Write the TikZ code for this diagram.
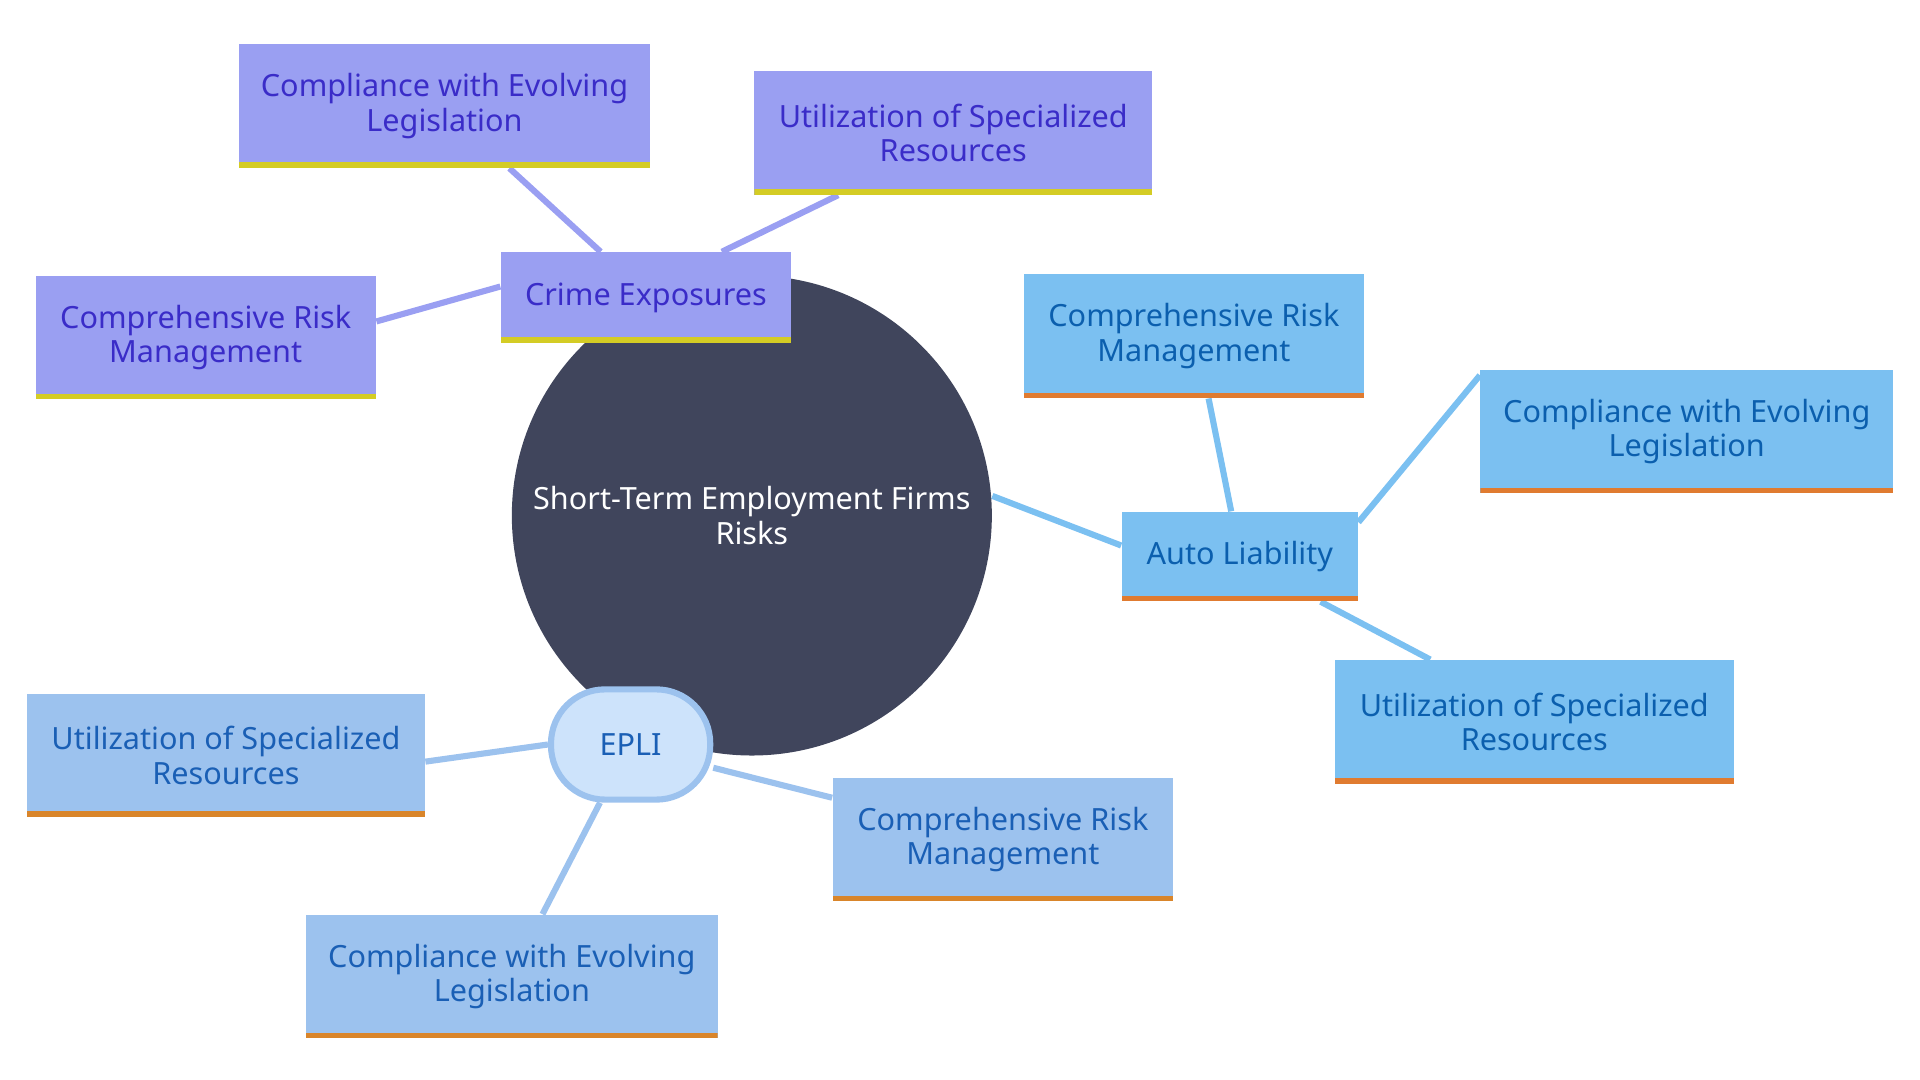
\documentclass[tikz,border=0pt]{standalone}
\usepackage{fontspec}
\setmainfont{Noto Sans}
\usetikzlibrary{backgrounds}
\definecolor{cp}{HTML}{9A9FF2}\definecolor{cpt}{HTML}{3A2CC8}\definecolor{cpl}{HTML}{D4CC25}
\definecolor{ca}{HTML}{7BC0F1}\definecolor{cat}{HTML}{0B5FAE}\definecolor{cal}{HTML}{E07B30}
\definecolor{ce}{HTML}{9CC2EE}\definecolor{cet}{HTML}{1A5FB5}\definecolor{cel}{HTML}{D9852A}
\definecolor{cef}{HTML}{CDE3FB}\definecolor{cc}{HTML}{40455C}
\begin{document}
\begin{tikzpicture}[x=0.5pt,y=-0.5pt,
 box/.style={rectangle,inner sep=0,align=center,font=\fontsize{12.5}{14}\selectfont},
 pb/.style n args={3}{box,fill=#1,text=#2,path picture={\fill[#3] ([yshift=2.2pt]path picture bounding box.south west) rectangle (path picture bounding box.south east);}},
 crime/.style={pb={cp}{cpt}{cpl}},
 auto/.style={pb={ca}{cat}{cal}},
 epli/.style={pb={ce}{cet}{cel}},
 e/.style={line width=2.5pt}]
\useasboundingbox (0,0) rectangle (1568,882);
\node[circle,fill=cc,minimum size=196pt,text=white,align=center,font=\fontsize{12.5}{14}\selectfont] (c) at (614,421) {Short-Term Employment Firms\\Risks};
\node[crime,minimum width=118.5pt,minimum height=37pt] (cr) at (527.5,243) {Crime Exposures};
\node[crime,minimum width=168pt,minimum height=50.5pt] (cr1) at (363,86.5) {Compliance with Evolving\\Legislation};
\node[crime,minimum width=162.5pt,minimum height=50.5pt] (cr2) at (778.5,108.5) {Utilization of Specialized\\Resources};
\node[crime,minimum width=139pt,minimum height=50.5pt] (cr3) at (168,275.5) {Comprehensive Risk\\Management};
\node[auto,minimum width=96.5pt,minimum height=36.5pt] (au) at (1012.5,454.5) {Auto Liability};
\node[auto,minimum width=139pt,minimum height=50.5pt] (au1) at (975,274.5) {Comprehensive Risk\\Management};
\node[auto,minimum width=168.5pt,minimum height=50.5pt] (au2) at (1377.5,352.5) {Compliance with Evolving\\Legislation};
\node[auto,minimum width=163pt,minimum height=50.5pt] (au3) at (1253,589.5) {Utilization of Specialized\\Resources};
\node[rectangle,rounded corners=22pt,fill=cef,draw=ce,line width=2.5pt,text=cet,minimum width=65pt,minimum height=45pt,font=\fontsize{12.5}{14}\selectfont] (ep) at (515,608) {EPLI};
\node[epli,minimum width=162.5pt,minimum height=50pt] (ep1) at (184.5,617) {Utilization of Specialized\\Resources};
\node[epli,minimum width=139pt,minimum height=50.5pt] (ep2) at (819,685.5) {Comprehensive Risk\\Management};
\node[epli,minimum width=168pt,minimum height=50.5pt] (ep3) at (418,797.5) {Compliance with Evolving\\Legislation};
\begin{scope}[on background layer]
\draw[e,cp] (cr.center)+(-37,0) coordinate (a1);
\draw[e,cp] ([xshift=-18.5pt]cr.north) -- ([xshift=26.5pt]cr1.south);
\draw[e,cp] ([xshift=31pt]cr.north) -- ([xshift=-47pt]cr2.south);
\draw[e,cp] ([yshift=4.5pt]cr.west) -- ([yshift=6.5pt]cr3.east);
\draw[e,ca] ([yshift=8pt]c.east) -- ([yshift=4.5pt]au.west);
\draw[e,ca] ([xshift=-3.5pt]au.north) -- ([xshift=6pt]au1.south);
\draw[e,ca] ([yshift=14pt]au.east) -- ([yshift=23pt]au2.west);
\draw[e,ca] ([xshift=33pt]au.south) -- ([xshift=-42.5pt]au3.north);
\draw[e,ce] (ep.west) -- ([yshift=-2.5pt]ep1.east);
\draw[e,ce] ([yshift=-9.5pt]ep.east) -- ([yshift=17pt]ep2.west);
\draw[e,ce] ([xshift=-12.5pt]ep.south) -- ([xshift=12.5pt]ep3.north);
\end{scope}
\end{tikzpicture}
\end{document}
